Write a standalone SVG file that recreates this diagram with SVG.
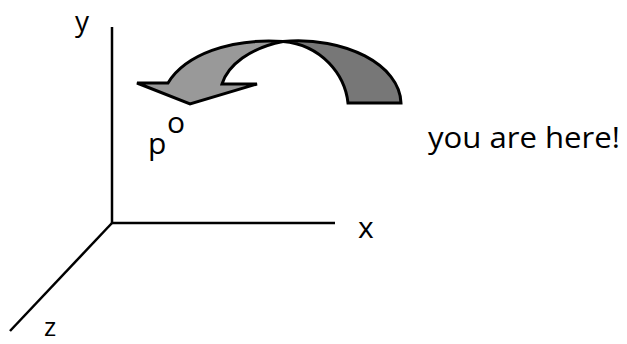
<svg xmlns="http://www.w3.org/2000/svg" width="627" height="344" viewBox="0 0 627 344">
<style>
.ax{stroke:#000;stroke-width:2.5;fill:none;stroke-linecap:butt}
.lbl{font-family:"Open Sans","DejaVu Sans",sans-serif;font-size:30px;fill:#000}
.rib{stroke:#000;stroke-width:3;stroke-linejoin:miter}
</style>
<rect width="627" height="344" fill="#fff"/>
<g id="connectors">
<line class="ax" x1="112" y1="27" x2="112" y2="224"/>
<line class="ax" x1="111" y1="223" x2="335" y2="223"/>
<line class="ax" x1="112" y1="223" x2="10" y2="331"/>
</g>
<g id="arrow">
<path class="rib" fill="#777" d="M283,41.5 C345,36 400,65 401,103 L348,103 C345,75 322,45 283,41.5 Z"/>
<path class="rib" fill="#999" d="M283,41.5 C230,38 185,55 168,83 L137,83 L190,104 L257,84 L222,84 C228,65 250,48 283,41.5 Z"/>
</g>
<g id="label-y"><text class="lbl" x="75" y="31" style="font-size:28px">y</text></g>
<g id="label-x"><text class="lbl" x="358" y="238">x</text></g>
<g id="label-z"><text class="lbl" x="44" y="336" style="font-size:26px">z</text></g>
<g id="point-p"><text class="lbl" x="148" y="154">p</text><text class="lbl" x="167" y="133">o</text></g>
<g id="here"><text class="lbl" x="428" y="148" textLength="192" lengthAdjust="spacingAndGlyphs">you are here!</text></g>
</svg>
